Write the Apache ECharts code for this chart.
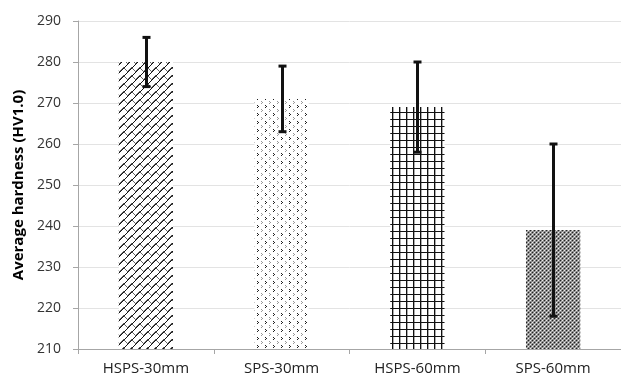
<!DOCTYPE html>
<html>
<head>
<meta charset="utf-8">
<script src="https://cdn.jsdelivr.net/npm/echarts@6/dist/echarts.min.js"></script>
<style>
  html, body { margin: 0; padding: 0; background: #fff; }
  #chart { width: 621px; height: 381px; }
</style>
</head>
<body>
<div id="chart"></div>
<script>
const categories = ['HSPS-30mm', 'SPS-30mm', 'HSPS-60mm', 'SPS-60mm'];
const hardness = [280, 271, 269, 239];
const errLow = [274, 263, 258, 218];
const errHigh = [286, 279, 280, 260];
const yTicks = [210, 220, 230, 240, 250, 260, 270, 280, 290];

// small tiles used as fill patterns, one per bar
const tile = (w, h, draw) => {
  const c = document.createElement('canvas');
  c.width = w; c.height = h;
  const ctx = c.getContext('2d');
  ctx.fillStyle = '#fff';
  ctx.fillRect(0, 0, w, h);
  draw(ctx);
  return { image: c, repeat: 'repeat' };
};

const px = (ctx, col, pts) => {
  ctx.fillStyle = col;
  pts.forEach(p => ctx.fillRect(p[0], p[1], 1, 1));
};

const patterns = [
  // diagonal weave
  tile(8, 8, ctx => {
    px(ctx, '#111', [[0, 7], [1, 6], [2, 5], [3, 4], [4, 3], [5, 2], [6, 1], [7, 0]]);
    px(ctx, '#666', [[0, 6], [1, 5], [4, 4], [5, 5], [6, 6], [7, 7], [3, 3], [2, 4]]);
  }),
  // sparse dots
  tile(8, 8, ctx => {
    px(ctx, '#222', [[1, 1], [2, 2], [1, 3]]);
    px(ctx, '#999', [[5, 5], [6, 6], [5, 7]]);
  }),
  // small grid
  tile(7, 7, ctx => {
    ctx.fillStyle = '#111';
    ctx.fillRect(0, 0, 7, 1);
    ctx.fillRect(0, 0, 1, 7);
    ctx.fillStyle = '#aaa';
    ctx.fillRect(1, 1, 1, 6);
  }),
  // dense checker
  tile(4, 4, ctx => {
    ctx.fillStyle = '#8a8a8a';
    ctx.fillRect(0, 0, 4, 4);
    px(ctx, '#222', [[0, 0], [2, 2]]);
    px(ctx, '#eee', [[2, 0], [0, 2]]);
    px(ctx, '#b5b5b5', [[1, 1], [3, 3]]);
  })
];

const chart = echarts.init(document.getElementById('chart'));

chart.setOption({
  animation: false,
  textStyle: { fontFamily: '"Open Sans", "Noto Sans", sans-serif' },
  grid: { left: 78, right: 0, top: 21, bottom: 32 },
  xAxis: {
    type: 'category',
    data: categories,
    axisLine: { lineStyle: { color: '#a6a6a6', width: 1 } },
    axisTick: { show: true, length: 5, lineStyle: { color: '#a6a6a6' } },
    axisLabel: { color: '#222', fontSize: 15, margin: 12 }
  },
  yAxis: {
    type: 'value',
    min: yTicks[0],
    max: yTicks[yTicks.length - 1],
    interval: 10,
    name: 'Average hardness (HV1.0)',
    nameLocation: 'middle',
    nameGap: 51,
    nameTextStyle: { color: '#000', fontSize: 15, fontWeight: 'bold' },
    axisLine: { show: true, lineStyle: { color: '#a6a6a6' } },
    axisTick: { show: true, length: 5, inside: false, lineStyle: { color: '#a6a6a6' } },
    axisLabel: { color: '#333', fontSize: 14, margin: 17 },
    splitLine: { lineStyle: { color: '#e3e3e3', width: 1 } }
  },
  series: [
    {
      type: 'bar',
      barWidth: '40%',
      data: hardness.map((v, i) => ({ value: v, itemStyle: { color: patterns[i] } }))
    },
    {
      type: 'custom',
      data: categories.map((c, i) => [i, errLow[i], errHigh[i]]),
      encode: { x: 0, y: [1, 2] },
      z: 5,
      renderItem: (params, api) => {
        const lo = api.coord([api.value(0), api.value(1)]);
        const hi = api.coord([api.value(0), api.value(2)]);
        const x = Math.round(lo[0]) + 0.5;
        const cap = 4;
        const style = { stroke: '#111', lineWidth: 3 };
        return {
          type: 'group',
          children: [
            { type: 'line', shape: { x1: x, y1: hi[1], x2: x, y2: lo[1] }, style },
            { type: 'line', shape: { x1: x - cap, y1: hi[1], x2: x + cap, y2: hi[1] }, style },
            { type: 'line', shape: { x1: x - cap, y1: lo[1], x2: x + cap, y2: lo[1] }, style }
          ]
        };
      }
    }
  ]
});
</script>
</body>
</html>
